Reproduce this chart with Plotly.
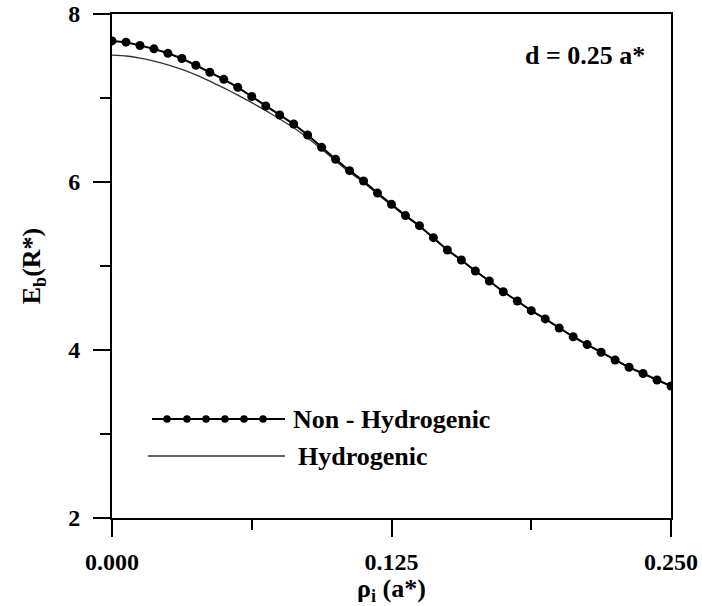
import plotly.graph_objects as go

# ---- data ----
rho_i = [0.0, 0.00625, 0.0125, 0.01875, 0.025, 0.03125, 0.0375, 0.04375, 0.05, 0.05625,
         0.0625, 0.06875, 0.075, 0.08125, 0.0875, 0.09375, 0.1, 0.10625, 0.1125, 0.11875,
         0.125, 0.13125, 0.1375, 0.14375, 0.15, 0.15625, 0.1625, 0.16875, 0.175, 0.18125,
         0.1875, 0.19375, 0.2, 0.20625, 0.2125, 0.21875, 0.225, 0.23125, 0.2375, 0.24375, 0.25]

E_non_hydrogenic = [7.68, 7.665, 7.625, 7.585, 7.532, 7.47, 7.39, 7.306, 7.222, 7.127,
                    7.018, 6.905, 6.798, 6.69, 6.56, 6.413, 6.27, 6.135, 6.012, 5.868,
                    5.734, 5.6, 5.48, 5.337, 5.19, 5.071, 4.94, 4.821, 4.694, 4.583,
                    4.468, 4.37, 4.262, 4.158, 4.064, 3.973, 3.881, 3.794, 3.72, 3.643, 3.571]

E_hydrogenic = [7.51, 7.50, 7.475, 7.44, 7.395, 7.34, 7.275, 7.20, 7.12, 7.035,
                6.945, 6.85, 6.75, 6.645, 6.525, 6.39, 6.25, 6.115, 5.995, 5.855,
                5.724, 5.592, 5.474, 5.332, 5.186, 5.068, 4.938, 4.82, 4.693, 4.582,
                4.467, 4.369, 4.261, 4.157, 4.063, 3.972, 3.88, 3.793, 3.719, 3.642, 3.57]

x_ticks = [0.0, 0.125, 0.25]
x_tick_labels = ["0.000", "0.125", "0.250"]
y_ticks = [2, 4, 6, 8]
y_tick_labels = ["2", "4", "6", "8"]

series_names = ["Non - Hydrogenic", "Hydrogenic"]
annotation_text = "d = 0.25 a*"

FONT = "Liberation Serif"

fig = go.Figure()
fig.add_trace(go.Scatter(
    x=rho_i, y=E_hydrogenic, mode="lines", name=series_names[1],
    line=dict(color="#333333", width=1.3, shape="spline", smoothing=0.5),
    showlegend=False))
fig.add_trace(go.Scatter(
    x=rho_i, y=E_non_hydrogenic, mode="lines+markers", name=series_names[0],
    line=dict(color="black", width=2),
    marker=dict(color="black", size=9),
    showlegend=False))

# legend drawn manually (long samples as in the reference)
fig.add_shape(type="line", xref="paper", yref="paper",
              x0=(152 - 112) / 559, x1=(285 - 112) / 559,
              y0=(518 - 419) / 504, y1=(518 - 419) / 504,
              line=dict(color="black", width=2))
for px in [167, 187, 206, 225, 244, 263]:
    cx = (px - 112) / 559
    cy = (518 - 419) / 504
    fig.add_shape(type="circle", xref="paper", yref="paper",
                  x0=cx - 3.8 / 559, x1=cx + 3.8 / 559,
                  y0=cy - 3.8 / 504, y1=cy + 3.8 / 504,
                  fillcolor="black", line=dict(color="black", width=0))
fig.add_shape(type="line", xref="paper", yref="paper",
              x0=(148 - 112) / 559, x1=(285 - 112) / 559,
              y0=(518 - 456) / 504, y1=(518 - 456) / 504,
              line=dict(color="#333333", width=1.3))
fig.add_annotation(xref="paper", yref="paper", x=(291 - 112) / 559, y=(518 - 419) / 504,
                   xanchor="left", yanchor="middle", showarrow=False,
                   text="<b>" + series_names[0] + "</b>",
                   font=dict(family=FONT, size=26, color="black"))
fig.add_annotation(xref="paper", yref="paper", x=(296 - 112) / 559, y=(518 - 456) / 504,
                   xanchor="left", yanchor="middle", showarrow=False,
                   text="<b>" + series_names[1] + "</b>",
                   font=dict(family=FONT, size=26, color="black"))
fig.add_annotation(xref="paper", yref="paper", x=(585 - 112) / 559, y=(518 - 55) / 504,
                   xanchor="center", yanchor="middle", showarrow=False,
                   text="<b>" + annotation_text + "</b>",
                   font=dict(family=FONT, size=26, color="black"))

axis_common = dict(
    showgrid=False, zeroline=False, showline=True, mirror=True, automargin=False,
    linecolor="black", linewidth=2, ticks="outside", tickcolor="black",
    tickwidth=2, ticklen=17,
    tickfont=dict(family=FONT, size=24, color="black", weight="bold"),
)

fig.update_xaxes(
    range=[0, 0.25], tickmode="array", tickvals=x_ticks, ticktext=x_tick_labels,
    minor=dict(ticks="outside", dtick=0.0625, tick0=0, ticklen=10, tickwidth=2, tickcolor="black"),
    title=dict(text="<b>ρ<sub>i</sub> (a*)</b>", font=dict(family=FONT, size=26, color="black"),
               standoff=0),
    ticklabelstandoff=4,
    **axis_common)
fig.update_yaxes(
    range=[2, 8], tickmode="array", tickvals=y_ticks, ticktext=y_tick_labels,
    minor=dict(ticks="outside", dtick=1, tick0=2, ticklen=10, tickwidth=2, tickcolor="black"),
    title=dict(text="<b>E<sub>b</sub>(R*)</b>", font=dict(family=FONT, size=26, color="black"),
               standoff=20),
    ticklabelstandoff=8,
    **axis_common)

fig.update_layout(
    template="none",
    width=702, height=606,
    margin=dict(l=112, r=31, t=14, b=88),
    paper_bgcolor="white", plot_bgcolor="white",
    font=dict(family=FONT, color="black"),
)

fig.write_html("out.html")
